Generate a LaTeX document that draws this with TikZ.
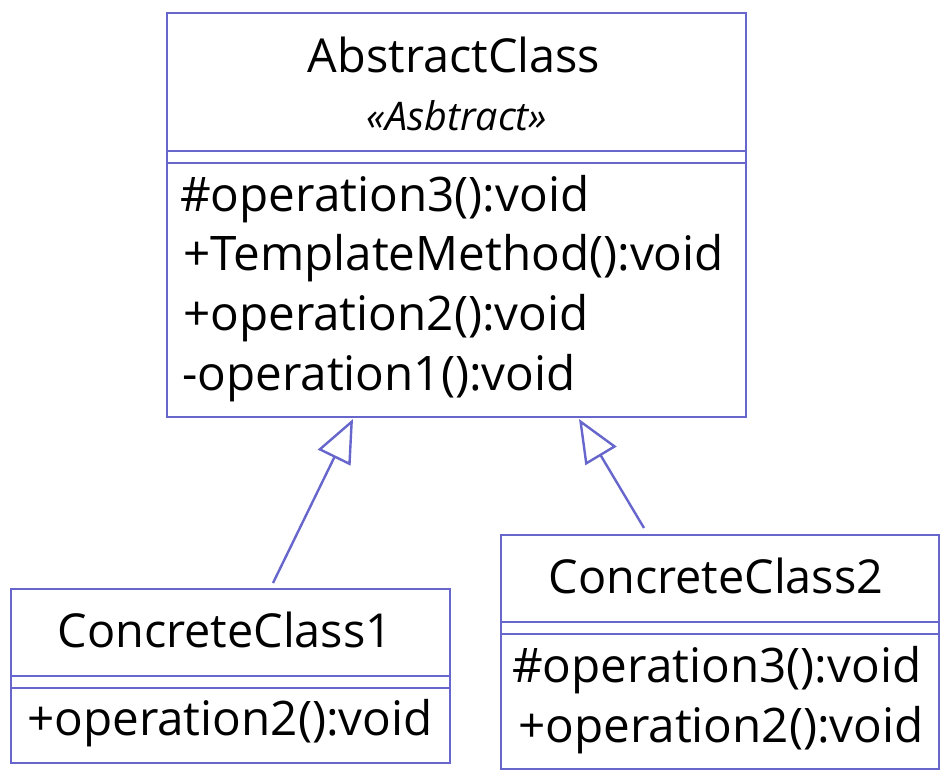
\documentclass[tikz,border=0pt]{standalone}
\usepackage{fontspec}
\setmainfont{Open Sans}
\usetikzlibrary{arrows.meta}
\definecolor{umlblue}{RGB}{102,102,204}
\begin{document}
\begin{tikzpicture}[x=1pt,y=-1pt,
  box/.style={draw=umlblue,line width=1.3pt,outer sep=0pt,inner sep=0pt,anchor=north west},
  sepline/.style={draw=umlblue,line width=1.3pt},
  title/.style={inner sep=0pt,anchor=base,font=\fontsize{46.8}{52}\selectfont},
  stereo/.style={inner sep=0pt,anchor=base,font=\fontsize{39.5}{42}\selectfont\itshape},
  member/.style={inner sep=0pt,anchor=base west,font=\fontsize{47.6}{52}\selectfont},
  inherit/.style={draw=umlblue,line width=2.4pt,-{Triangle[open,length=43pt,width=36pt]}}]
\useasboundingbox (0,0) rectangle (950,782);
\fill[white] (0,0) rectangle (950,782);

% AbstractClass
\node[box,minimum width=579pt,minimum height=404pt] (abs) at (167,13) {};
\draw[sepline] (167,151) -- (746,151);
\draw[sepline] (167,163) -- (746,163);
\node[title] (absname) at (454,72) {AbstractClass};
\node[stereo] (absster) at (457,130) {«Asbtract»};
\node[member] (m1) at (180,211) {\#operation3():void};
\node[member] (m2) at (183,270) {+TemplateMethod():void};
\node[member] (m3) at (183,330) {+operation2():void};
\node[member] (m4) at (182,390) {-operation1():void};

% ConcreteClass1
\node[box,minimum width=439pt,minimum height=174pt] (c1) at (11,589) {};
\draw[sepline] (11,676) -- (450,676);
\draw[sepline] (11,688) -- (450,688);
\node[title] (c1name) at (225,647) {ConcreteClass1};
\node[member] (c1m1) at (27,735) {+operation2():void};

% ConcreteClass2
\node[box,minimum width=438pt,minimum height=234pt] (c2) at (501,535) {};
\draw[sepline] (501,622) -- (939,622);
\draw[sepline] (501,634) -- (939,634);
\node[title] (c2name) at (716,593) {ConcreteClass2};
\node[member] (c2m1) at (512,682) {\#operation3():void};
\node[member] (c2m2) at (518,742) {+operation2():void};

% inheritance
\coordinate (t1) at (353,419);
\coordinate (s1) at (273,583);
\coordinate (t2) at (579,419);
\coordinate (s2) at (644,528);
\draw[inherit] (s1) -- (t1);
\draw[inherit] (s2) -- (t2);
\end{tikzpicture}
\end{document}
